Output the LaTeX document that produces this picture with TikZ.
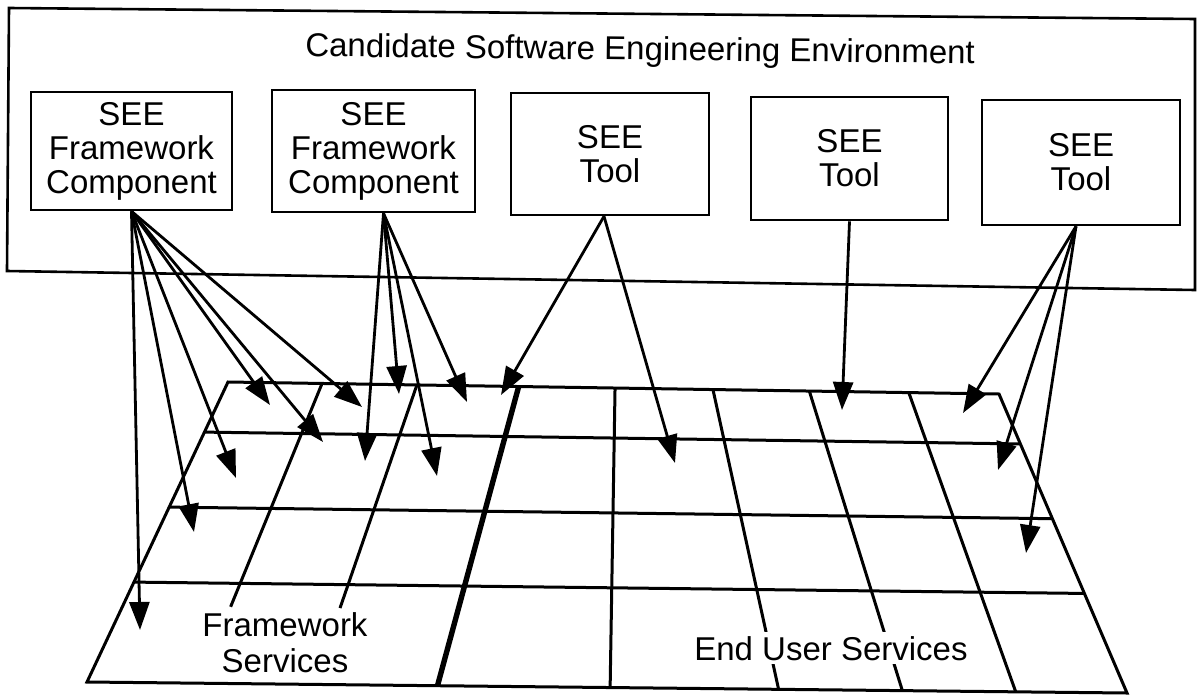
\documentclass[tikz,border=0pt]{standalone}
\usepackage{fontspec}
\setmainfont{Liberation Sans}
\usetikzlibrary{arrows.meta}
\usetikzlibrary{calc}

\begin{document}
\begin{tikzpicture}[x=0.5pt,y=-0.5pt,
every node/.style={font=\fontsize{16.5}{17}\selectfont}]
\tikzstyle{fleche}=[->,>={Triangle[length=14pt,width=10pt]},line width=1.4pt]
\tikzstyle{grille}=[line width=1.5pt]
\tikzset{boite/.style={draw,line width=1.3pt,align=center,inner sep=0pt,
minimum width=#1,minimum height=61pt,execute at begin node={\rule{0pt}{21.5pt}}},
boite/.default={100pt}}
\useasboundingbox (0,0) rectangle (1198,696);
% environnement
\draw[line width=1.3pt] (9,8) -- (1195,19) -- (1195,290) -- (7,271) -- cycle;
\node[anchor=base,rotate=-0.6] (titre) at (640,60) {Candidate Software Engineering Environment};
\node[boite=100.5pt,minimum height=59pt] (fw1) at (131.5,151) {SEE\\Framework\\Component};
\node[boite=101.5pt] (fw2) at (373.5,151) {SEE\\Framework\\Component};
\node[boite=99pt] (outil1) at (610,154) {SEE\\Tool};
\node[boite=98.5pt,minimum height=61.5pt] (outil2) at (849.5,158.5) {SEE\\Tool};
\node[boite=99pt,minimum height=62.5pt] (outil3) at (1081,162.5) {SEE\\Tool};
% grille des services
\coordinate (hg) at (228,382);
\coordinate (hd) at (999,394);
\coordinate (bg) at (87,682);
\coordinate (bd) at (1127,693);
\draw[grille] (hg) -- (hd) -- (bd) -- (bg) -- cycle;
\foreach \f in {0.167,0.417,0.667}
  \draw[grille] ($(hg)!\f!(bg)$) -- ($(hd)!\f!(bd)$);
\foreach \h/\b in {0.502/0.503,0.629/0.665,0.754/0.784,0.883/0.893}
  \draw[grille] ($(hg)!\h!(hd)$) -- ($(bg)!\b!(bd)$);
\draw[grille,line width=2.7pt] ($(hg)!0.377!(hd)$) -- ($(bg)!0.337!(bd)$);
\foreach \h/\b in {0.122/0.108,0.245/0.218}{
  \coordinate (ph) at ($(hg)!\h!(hd)$);
  \coordinate (pb) at ($(bg)!\b!(bd)$);
  \draw[grille] (ph) -- ($(ph)!0.745!(pb)$);
}
\node[align=center,font=\fontsize{16.5}{18}\selectfont] (services) at (285,643) {Framework\\Services};
\node[fill=white,inner sep=2pt,anchor=base] (utilisateur) at (831,660) {End User Services};
% fleches
\foreach \n/\x/\y in {a1/140/630,a2/194/532,a3/236/478,a4/270/405,a5/323/442,a6/362/407,
  b1/365/461,b2/399/394,b3/437/476,b4/467/402,c1/501/395,c2/675/463,d1/842/410,
  e1/963/413,e2/998/470,e3/1026/553}
  \coordinate (\n) at (\x,\y);
\foreach \i in {1,...,6} \draw[fleche] (fw1.south) -- (a\i);
\foreach \i in {1,...,4} \draw[fleche] ([xshift=5pt]fw2.south) -- (b\i);
\foreach \i in {1,2} \draw[fleche] ([xshift=-3pt]outil1.south) -- (c\i);
\draw[fleche] (outil2.south) -- (d1);
\foreach \i in {1,2,3} \draw[fleche] ([xshift=-2.5pt]outil3.south) -- (e\i);
\end{tikzpicture}
\end{document}
